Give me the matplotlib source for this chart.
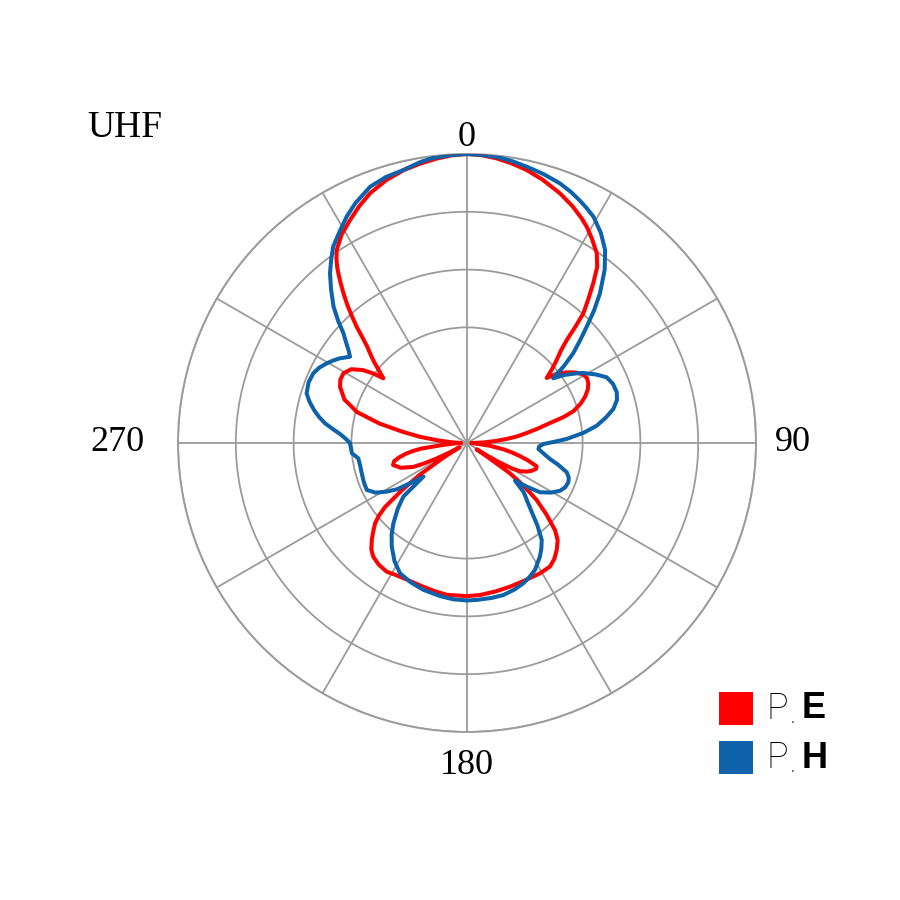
import numpy as np
import matplotlib
matplotlib.use("Agg")
import matplotlib.pyplot as plt
from matplotlib.patches import Rectangle

# ---- data (relative field level, 1.0 = outer ring) ----
e_angle_deg = [0, 3, 6, 9, 12.3, 16, 20.4, 24, 27, 29, 31.5, 34.4, 36.5, 38.3, 40, 41.9, 43,
               44.1, 45.5, 47.2, 49, 50.8, 52.5, 54.7, 57, 59.5, 61.5, 63.7, 66, 68.6, 71, 73.4,
               75, 76.5, 78.5, 80.5, 82.5, 84.2, 86, 88, 91, 94, 97, 100, 102, 104, 106, 108.5,
               110.5, 113, 115.5, 118, 119.5, 121, 122.3, 123.3, 124.3, 125.2, 126.6, 128, 129.3,
               132, 134.7, 137, 140, 143, 146.1, 150.7, 157, 163.3, 169, 175.1, 180, 187.6,
               192, 196.9, 201, 205.2, 209, 212, 216, 219.5, 222, 224.5, 226.5, 228.9, 230.5,
               232, 234, 236, 238, 240, 241.5, 243, 244.5, 246, 249.5, 253.4, 256, 258, 260,
               261.5, 263, 265, 267.5, 270, 272.5, 275, 277.5, 279.8, 282.5, 285.7, 289.5,
               293.8, 296.5, 299.4, 302.5, 305, 306.5, 307.7, 309.5, 311, 312.5, 314, 315.3,
               316.5, 317.8, 319, 320.3, 321.5, 322.5, 323.5, 324.7, 326, 329, 332.3, 335.5,
               338.8, 343, 346.9, 350.5, 354, 357, 360]
e_level = [1.0, 0.997, 0.99, 0.98, 0.967, 0.948, 0.922, 0.897, 0.873, 0.855, 0.828, 0.795,
           0.757, 0.705, 0.655, 0.603, 0.55, 0.496, 0.455, 0.423, 0.39, 0.356, 0.395, 0.423,
           0.448, 0.467, 0.472, 0.468, 0.458, 0.439, 0.415, 0.384, 0.345, 0.295, 0.25, 0.21,
           0.175, 0.138, 0.1, 0.06, 0.015, 0.03, 0.08, 0.13, 0.16, 0.19, 0.22, 0.254, 0.255,
           0.245, 0.23, 0.208, 0.18, 0.13, 0.08, 0.04, 0.09, 0.18, 0.228, 0.27, 0.311, 0.37,
           0.428, 0.46, 0.483, 0.502, 0.515, 0.517, 0.516, 0.519, 0.523, 0.528, 0.53, 0.53,
           0.525, 0.52, 0.517, 0.517, 0.52, 0.525, 0.52, 0.51, 0.495, 0.47, 0.448, 0.422,
           0.395, 0.36, 0.28, 0.2, 0.1, 0.03, 0.07, 0.12, 0.165, 0.204, 0.245, 0.267, 0.26,
           0.24, 0.215, 0.19, 0.16, 0.09, 0.045, 0.02, 0.05, 0.1, 0.165, 0.225, 0.31, 0.395,
           0.45, 0.48, 0.49, 0.491, 0.475, 0.44, 0.405, 0.366, 0.395, 0.425, 0.452, 0.48,
           0.515, 0.555, 0.593, 0.63, 0.667, 0.7, 0.728, 0.755, 0.782, 0.806, 0.842, 0.871,
           0.9, 0.927, 0.952, 0.969, 0.98, 0.99, 0.997, 1.0]

h_angle_deg = [0, 3, 6, 9, 12.2, 16, 19.7, 22.5, 25, 27, 29.2, 32.5, 35.6, 38.5, 41.6, 43.8,
               45.8, 47.8, 49.8, 51.5, 53.1, 55, 57.6, 59, 62, 64.8, 68, 71.3, 74, 76.9, 79.5,
               82.4, 85, 87.7, 89.3, 90.8, 92.8, 94.8, 97.5, 100.9, 103.5, 106.4, 108.8, 111.2,
               114.2, 117.2, 120.5, 124, 126, 128.1, 131, 134, 137, 139.5, 142.4, 145, 147.3,
               151.8, 155, 158.1, 162, 166.6, 171, 176.5, 180, 185, 190, 196.6, 202, 207.2,
               211.5, 216, 219.5, 222.5, 226.5, 229.9, 232.4, 234.7, 236.5, 238.8, 241.5, 244.9,
               249, 253.9, 258, 262, 264.9, 267.5, 270, 272, 274, 276, 277.9, 280, 282, 284.5,
               287.2, 291, 294.4, 297, 299.6, 301.5, 303.5, 306.4, 308, 309.8, 311.6, 313.5,
               315.6, 318.5, 321.1, 323.5, 325.7, 329, 332, 335, 339.3, 343, 346.9, 350.5, 353,
               356.5, 360]
h_level = [1.0, 0.998, 0.995, 0.988, 0.978, 0.967, 0.954, 0.94, 0.925, 0.912, 0.897, 0.862,
           0.821, 0.765, 0.693, 0.635, 0.578, 0.528, 0.481, 0.43, 0.373, 0.41, 0.45, 0.47,
           0.505, 0.534, 0.545, 0.547, 0.54, 0.52, 0.49, 0.453, 0.405, 0.345, 0.3, 0.264, 0.25,
           0.248, 0.265, 0.292, 0.325, 0.36, 0.372, 0.376, 0.373, 0.362, 0.338, 0.305, 0.26,
           0.211, 0.26, 0.29, 0.33, 0.375, 0.424, 0.448, 0.467, 0.498, 0.512, 0.523, 0.533,
           0.541, 0.543, 0.544, 0.545, 0.543, 0.538, 0.53, 0.52, 0.507, 0.48, 0.443, 0.41,
           0.377, 0.33, 0.288, 0.19, 0.24, 0.29, 0.325, 0.36, 0.383, 0.382, 0.379, 0.378, 0.38,
           0.4, 0.402, 0.405, 0.42, 0.44, 0.468, 0.496, 0.52, 0.54, 0.562, 0.581, 0.587, 0.584,
           0.574, 0.558, 0.545, 0.53, 0.503, 0.52, 0.545, 0.572, 0.615, 0.66, 0.71, 0.755,
           0.79, 0.822, 0.855, 0.887, 0.915, 0.948, 0.962, 0.97, 0.985, 0.993, 0.998, 1.0]

ring_levels = [0.4, 0.6, 0.8, 1.0]
spoke_angles = list(range(0, 360, 30))
angle_labels = ["0", "90", "180", "270"]
series_names = ["E", "H"]

RED = "#FF0000"
BLUE = "#0E62AA"
GRID = "#9b9b9b"

fig = plt.figure(figsize=(9, 9), dpi=100)
ax = fig.add_axes([0.1978, 0.1867, 0.6422, 0.6422], projection="polar")
ax.set_theta_zero_location("N")
ax.set_theta_direction(-1)
ax.set_ylim(0, 1.0)
ax.set_yticks(ring_levels)
ax.set_yticklabels([])
ax.set_xticks(np.deg2rad(spoke_angles))
ax.set_xticklabels([])
ax.tick_params(length=0)
ax.grid(True, color=GRID, lw=1.3)
ax.spines["polar"].set_color(GRID)
ax.spines["polar"].set_linewidth(1.4)

ax.plot(np.deg2rad(e_angle_deg), e_level, color=RED, lw=2.9, solid_joinstyle="round",
        solid_capstyle="round", zorder=3)
ax.plot(np.deg2rad(h_angle_deg), h_level, color=BLUE, lw=2.9, solid_joinstyle="round",
        solid_capstyle="round", zorder=4)

serif = ["Liberation Serif", "DejaVu Serif"]
lab_pos = {"0": (0, 1.057), "90": (90, 1.128), "180": (180, 1.116), "270": (270, 1.21)}
for lab in angle_labels:
    a, r = lab_pos[lab]
    ax.text(np.deg2rad(a), r, lab, ha="center", va="center", fontsize=26,
            family=serif, clip_on=False)

fig.text(87 / 900, 1 - 128 / 900, "UHF", ha="left", va="center", fontsize=27, family=serif)

# legend
sans = ["Liberation Sans", "DejaVu Sans"]
for i, (name, col) in enumerate(zip(series_names, [RED, BLUE])):
    top = 692 + i * 49
    fig.add_artist(Rectangle((719 / 900, 1 - (top + 33) / 900), 34 / 900, 33 / 900,
                             transform=fig.transFigure, color=col, lw=0))
    yc = 1 - (top + 17) / 900
    fig.text(766 / 900, yc, "P", ha="left", va="center", fontsize=26, family=["Roboto"] + sans,
             fontweight="light", color="#000000")
    fig.text(791 / 900, yc - 10 / 900, ".", ha="left", va="center", fontsize=10, family=sans,
             color="#333333")
    fig.text(802 / 900, yc, name, ha="left", va="center", fontsize=26, family=sans,
             fontweight="bold", color="#000000")

fig.savefig("out.png", dpi=100, facecolor="white")
